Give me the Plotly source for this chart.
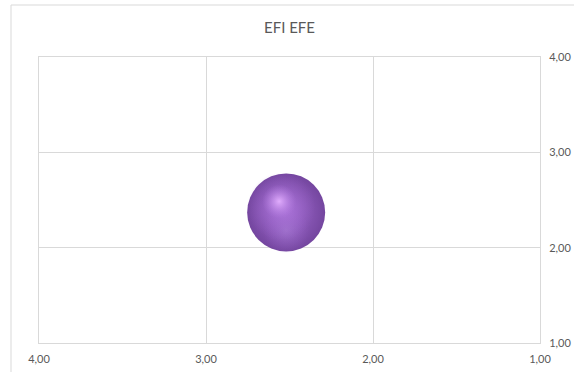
import plotly.graph_objects as go

# Data
title_text = "EFI EFE"
efi_x = [2.52]
efe_y = [2.37]
x_ticks = [4.0, 3.0, 2.0, 1.0]
y_ticks = [1.0, 2.0, 3.0, 4.0]

W, H = 574, 372
L, R, T, B = 39, 34, 57, 29
pw, ph = W - L - R, H - T - B
x_range = [4, 1]
y_range = [1, 4]
px_per_x = pw / 3.0
px_per_y = ph / 3.0

fig = go.Figure()

size = 78
# NOTE: for radial gradients, gradient.color is the CENTER colour, marker.color the edge.
# base sphere body (dark rim)
fig.add_trace(go.Scatter(
    x=efi_x, y=efe_y, mode="markers",
    marker=dict(size=size, color="#74469f",
                gradient=dict(type="radial", color="#a26bd1"),
                line=dict(width=0)),
    hoverinfo="skip", showlegend=False))
# lighter lower reflection
fig.add_trace(go.Scatter(
    x=[efi_x[0]], y=[efe_y[0] - 18 / px_per_y], mode="markers",
    marker=dict(size=46, color="rgba(154,100,203,0)",
                gradient=dict(type="radial", color="rgba(170,128,214,0.6)"),
                line=dict(width=0)),
    hoverinfo="skip", showlegend=False))
# soft body light
fig.add_trace(go.Scatter(
    x=[efi_x[0] + 5 / px_per_x], y=[efe_y[0] + 6 / px_per_y], mode="markers",
    marker=dict(size=68, color="rgba(160,105,208,0)",
                gradient=dict(type="radial", color="rgba(178,122,222,0.75)"),
                line=dict(width=0)),
    hoverinfo="skip", showlegend=False))
# highlight
fig.add_trace(go.Scatter(
    x=[efi_x[0] + 7 / px_per_x], y=[efe_y[0] + 11 / px_per_y], mode="markers",
    marker=dict(size=34, color="rgba(180,125,225,0)",
                gradient=dict(type="radial", color="rgba(228,176,255,0.95)"),
                line=dict(width=0)),
    hoverinfo="skip", showlegend=False))

tick_font = dict(family="Lato, Liberation Sans, sans-serif", size=11, color="#595959")

fig.update_layout(
    width=W, height=H,
    margin=dict(l=L, r=R, t=T, b=B, autoexpand=False),
    paper_bgcolor="white", plot_bgcolor="white",
    separators=",.",
    title=dict(text=title_text, x=0.5, xref="paper", y=1 - 28 / H, yanchor="middle",
               font=dict(family="Lato, Liberation Sans, sans-serif", size=15, color="#595959")),
    xaxis=dict(range=x_range, tickvals=x_ticks, tickformat=".2f",
               showgrid=True, gridcolor="#d9d9d9", gridwidth=1,
               showline=True, linecolor="#d9d9d9", mirror=True,
               zeroline=False, ticks="outside", ticklen=6, tickcolor="rgba(0,0,0,0)",
               tickfont=tick_font, automargin=False, fixedrange=True),
    yaxis=dict(range=y_range, tickvals=y_ticks, tickformat=".2f", side="right",
               showgrid=True, gridcolor="#d9d9d9", gridwidth=1,
               showline=True, linecolor="#d9d9d9", mirror=True,
               zeroline=False, ticks="outside", ticklen=6, tickcolor="rgba(0,0,0,0)",
               tickfont=tick_font, automargin=False, fixedrange=True),
    shapes=[
        dict(type="line", xref="paper", yref="paper",
             x0=(11 - L) / pw, x1=(11 - L) / pw, y0=1 + (T - 5) / ph, y1=-(B + 5) / ph,
             line=dict(color="#d9d9d9", width=1), layer="below"),
        dict(type="line", xref="paper", yref="paper",
             x0=(11 - L) / pw, x1=1 + (R + 5) / pw, y0=1 + (T - 5) / ph, y1=1 + (T - 5) / ph,
             line=dict(color="#d9d9d9", width=1), layer="below"),
    ],
)

fig.write_html("out.html")
